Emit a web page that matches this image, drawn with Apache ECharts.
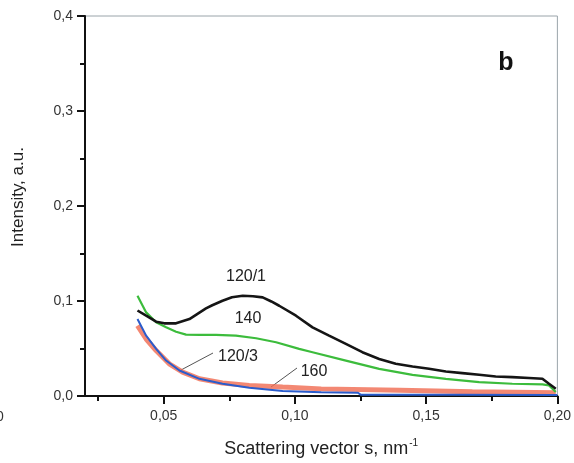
<!DOCTYPE html>
<html>
<head>
<meta charset="utf-8">
<script src="https://cdn.jsdelivr.net/npm/echarts@6/dist/echarts.min.js"></script>
<style>
html,body{margin:0;padding:0;background:#fff;}
#c{width:574px;height:463px;}
</style>
</head>
<body>
<div id="c"></div>
<script>
// ---- data ----
var xMajorTicks = [0.05, 0.10, 0.15, 0.20];
var xMinorTicks = [0.025, 0.075, 0.125, 0.175];
var yTickLabels = ['0,0', '0,1', '0,2', '0,3', '0,4'];

var s120_1 = [[0.040,0.090],[0.0433,0.0845],[0.0471,0.0782],[0.0502,0.0765],[0.0547,0.0765],[0.0598,0.0810],[0.0661,0.0922],[0.0685,0.0955],[0.0724,0.1002],[0.0760,0.1040],[0.0801,0.1055],[0.0840,0.1050],[0.0877,0.1038],[0.0910,0.0995],[0.0940,0.0950],[0.1004,0.0845],[0.1067,0.0723],[0.1130,0.0635],[0.1194,0.0548],[0.1257,0.0461],[0.1321,0.0390],[0.1384,0.0339],[0.1448,0.0310],[0.1511,0.0286],[0.1575,0.0258],[0.1638,0.0241],[0.1702,0.0223],[0.1765,0.0205],[0.1828,0.0199],[0.1892,0.0189],[0.1943,0.0181],[0.1968,0.0129],[0.1994,0.0077]];
var s140 = [[0.040,0.1055],[0.0433,0.0880],[0.0471,0.0776],[0.0509,0.0723],[0.0547,0.0677],[0.0585,0.0646],[0.0636,0.0643],[0.0699,0.0643],[0.0775,0.0635],[0.0852,0.0608],[0.0928,0.0566],[0.1016,0.0496],[0.1067,0.0461],[0.1194,0.0373],[0.1321,0.0286],[0.1448,0.0223],[0.1575,0.0181],[0.1702,0.0147],[0.1828,0.0129],[0.1943,0.0122],[0.1968,0.0111],[0.1994,0.0042]];
var s120_3 = [[0.040,0.0810],[0.0433,0.0635],[0.0471,0.0496],[0.0509,0.0373],[0.0560,0.0268],[0.0636,0.0181],[0.0724,0.0129],[0.0826,0.0087],[0.0953,0.0052],[0.1100,0.0040],[0.1240,0.0035],[0.1250,0.0014],[0.1600,0.0012],[0.2000,0.0010]];
var s160 = [[0.040,0.0740],[0.0433,0.0600],[0.0471,0.0478],[0.0521,0.0339],[0.0572,0.0252],[0.0636,0.0181],[0.0724,0.0136],[0.0826,0.0111],[0.0953,0.0094],[0.1100,0.0075],[0.1400,0.0060],[0.1676,0.0045],[0.1994,0.0035]];

var FONT = 'Liberation Sans, Arial, sans-serif';
var chart = echarts.init(document.getElementById('c'));

function line(name, data, color, width, z, opacity) {
  return {
    name: name, type: 'line', data: data, xAxisIndex: 0, yAxisIndex: 0,
    showSymbol: false, symbol: 'none', z: z, animation: false,
    lineStyle: { color: color, width: width, opacity: opacity == null ? 1 : opacity }
  };
}

chart.setOption({
  backgroundColor: '#fff',
  animation: false,
  grid: { left: 85, right: 16, top: 16, bottom: 66, show: true, borderColor: '#9aa4aa', borderWidth: 1 },
  xAxis: [{
    type: 'value', min: 0.02, max: 0.2,
    axisLine: { show: true, lineStyle: { color: '#111', width: 2 } },
    axisTick: { show: true, inside: false, length: 8, lineStyle: { color: '#111', width: 2 }, customValues: xMajorTicks },
    axisLabel: { show: true, customValues: xMajorTicks, margin: 13, color: '#333', fontSize: 14, fontFamily: FONT,
      formatter: function (v) { return v.toFixed(2).replace('.', ','); } },
    splitLine: { show: false },
    name: '{a|Scattering vector s, nm}{s|-1}', nameLocation: 'middle', nameGap: 42,
    nameTextStyle: { rich: {
      a: { fontSize: 18, fontFamily: FONT, color: '#222' },
      s: { fontSize: 10, fontFamily: FONT, color: '#222', verticalAlign: 'top', padding: [0, 0, 12, 1] }
    } }
  }, {
    type: 'value', min: 0.02, max: 0.2, position: 'bottom',
    axisLine: { show: false },
    axisTick: { show: true, inside: false, length: 5, lineStyle: { color: '#111', width: 2 }, customValues: xMinorTicks },
    axisLabel: { show: false },
    splitLine: { show: false }
  }],
  yAxis: [{
    type: 'value', min: 0, max: 0.4, interval: 0.1,
    axisLine: { show: true, lineStyle: { color: '#111', width: 2 } },
    axisTick: { show: true, inside: false, length: 8, lineStyle: { color: '#111', width: 2 } },
    minorTick: { show: true, splitNumber: 2, length: 5, lineStyle: { color: '#111', width: 2 } },
    axisLabel: { margin: 12, color: '#333', fontSize: 14, fontFamily: FONT,
      formatter: function (v) { return yTickLabels[Math.round(v * 10)]; } },
    splitLine: { show: false }
  }],
  series: [
    line('160', s160, '#f06a50', 5, 2, 0.8),
    line('120/3', s120_3, '#2a5ccc', 2, 3),
    line('140', s140, '#3cbc3c', 2.2, 4),
    line('120/1', s120_1, '#151515', 2.6, 5)
  ],
  graphic: [
    { type: 'text', x: 18.5, y: 197, rotation: Math.PI / 2,
      style: { text: 'Intensity, a.u.', fill: '#222', font: '17px ' + FONT, textAlign: 'center', textVerticalAlign: 'middle' } },
    { type: 'text', x: 506, y: 63,
      style: { text: 'b', fill: '#111', font: 'bold 25px ' + FONT, textAlign: 'center', textVerticalAlign: 'middle' } },
    { type: 'text', x: 246, y: 277,
      style: { text: '120/1', fill: '#222', font: '16px ' + FONT, textAlign: 'center', textVerticalAlign: 'middle' } },
    { type: 'text', x: 248, y: 319,
      style: { text: '140', fill: '#222', font: '16px ' + FONT, textAlign: 'center', textVerticalAlign: 'middle' } },
    { type: 'text', x: 238, y: 357,
      style: { text: '120/3', fill: '#222', font: '16px ' + FONT, textAlign: 'center', textVerticalAlign: 'middle' } },
    { type: 'text', x: 314, y: 372,
      style: { text: '160', fill: '#222', font: '16px ' + FONT, textAlign: 'center', textVerticalAlign: 'middle' } },
    { type: 'line', shape: { x1: 213, y1: 353, x2: 181, y2: 370 }, style: { stroke: '#555', lineWidth: 1 } },
    { type: 'line', shape: { x1: 297, y1: 368, x2: 271, y2: 387 }, style: { stroke: '#555', lineWidth: 1 } },
    { type: 'text', x: -4, y: 417,
      style: { text: '0', fill: '#333', font: '14px ' + FONT, textAlign: 'left', textVerticalAlign: 'middle' } }
  ]
});
</script>
</body>
</html>
